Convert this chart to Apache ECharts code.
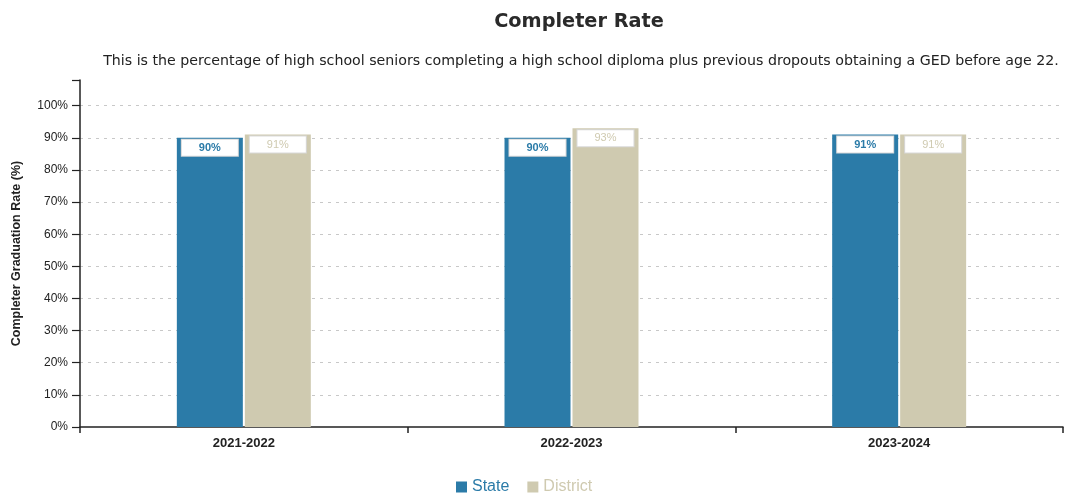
<!DOCTYPE html>
<html>
<head>
<meta charset="utf-8">
<script src="https://cdn.jsdelivr.net/npm/echarts@6/dist/echarts.min.js"></script>
<style>
  html, body { margin: 0; padding: 0; background: #fff; }
  #chart { width: 1065px; height: 493px; }
</style>
</head>
<body>
<div id="chart"></div>
<script>
// School years shown on the x axis
const years = ['2021-2022', '2022-2023', '2023-2024'];
// Completer rate (%) by year
const stateRate = [90, 90, 91];
const districtRate = [91, 93, 91];
// Y axis tick values that carry a label
const yTicks = [0, 10, 20, 30, 40, 50, 60, 70, 80, 90, 100];

const stateColor = '#2b7ba8';
const districtColor = '#cfcab0';
const sansFont = 'Liberation Sans, Arial, sans-serif';

const chart = echarts.init(document.getElementById('chart'));

function valueLabel(color, bold) {
  return {
    show: true,
    position: 'insideTop',
    distance: 2,
    formatter: p => Math.round(p.value) + '%',
    color: color,
    fontFamily: sansFont,
    fontSize: 11,
    fontWeight: bold ? 'bold' : 'normal',
    backgroundColor: '#ffffff',
    borderColor: '#d8d8d8',
    borderWidth: 1,
    padding: [2, 17, 2, 17],
    lineHeight: 12
  };
}

chart.setOption({
  backgroundColor: '#ffffff',
  animation: false,
  title: [
    {
      text: 'Completer Rate',
      left: 574,
      top: 7,
      textAlign: 'center',
      textStyle: {
        fontFamily: 'DejaVu Sans, sans-serif',
        fontSize: 19.3,
        fontWeight: 'bold',
        color: '#2a2a2a'
      }
    },
    {
      text: 'This is the percentage of high school seniors completing a high school diploma plus previous dropouts obtaining a GED before age 22.',
      left: 576,
      top: 49,
      textAlign: 'center',
      textStyle: {
        fontFamily: 'DejaVu Sans, sans-serif',
        fontSize: 14.2,
        fontWeight: 'normal',
        color: '#222'
      }
    }
  ],
  legend: {
    top: 474,
    left: 451,
    itemWidth: 11,
    itemHeight: 11,
    itemGap: 18,
    icon: 'rect',
    data: [
      { name: 'State', textStyle: { color: stateColor } },
      { name: 'District', textStyle: { color: districtColor } }
    ],
    textStyle: {
      fontFamily: sansFont,
      fontSize: 16
    }
  },
  grid: { left: 80, right: 2, top: 80, bottom: 66, containLabel: false },
  xAxis: {
    type: 'category',
    data: years,
    axisLine: { lineStyle: { color: '#222', width: 1.5 } },
    axisTick: { show: true, length: 6, lineStyle: { color: '#222', width: 1.5 } },
    axisLabel: {
      margin: 10,
      color: '#222',
      fontFamily: sansFont,
      fontSize: 13,
      fontWeight: 'bold'
    }
  },
  yAxis: {
    type: 'value',
    min: 0,
    max: 108,
    interval: 10,
    name: 'Completer Graduation Rate (%)',
    nameLocation: 'middle',
    nameGap: 57,
    nameTextStyle: {
      fontFamily: sansFont,
      fontSize: 12.5,
      fontWeight: 'bold',
      color: '#222'
    },
    axisLine: { show: true, lineStyle: { color: '#222', width: 1.5 } },
    axisTick: { show: true, length: 8, lineStyle: { color: '#222', width: 1.2 } },
    axisLabel: {
      color: '#222',
      fontFamily: sansFont,
      fontSize: 12,
      margin: 12,
      formatter: v => (yTicks.indexOf(v) >= 0 ? v + '%' : '')
    },
    splitLine: {
      show: true,
      showMinLine: false,
      showMaxLine: false,
      lineStyle: { color: '#c8c8c8', type: [3, 5], width: 1 }
    }
  },
  series: [
    {
      name: 'State',
      type: 'bar',
      data: stateRate,
      barWidth: 66,
      barGap: '3%',
      itemStyle: { color: stateColor },
      label: valueLabel(stateColor, true)
    },
    {
      name: 'District',
      type: 'bar',
      data: districtRate,
      barWidth: 66,
      barGap: '3%',
      itemStyle: { color: districtColor },
      label: valueLabel(districtColor, false)
    }
  ]
});
</script>
</body>
</html>
